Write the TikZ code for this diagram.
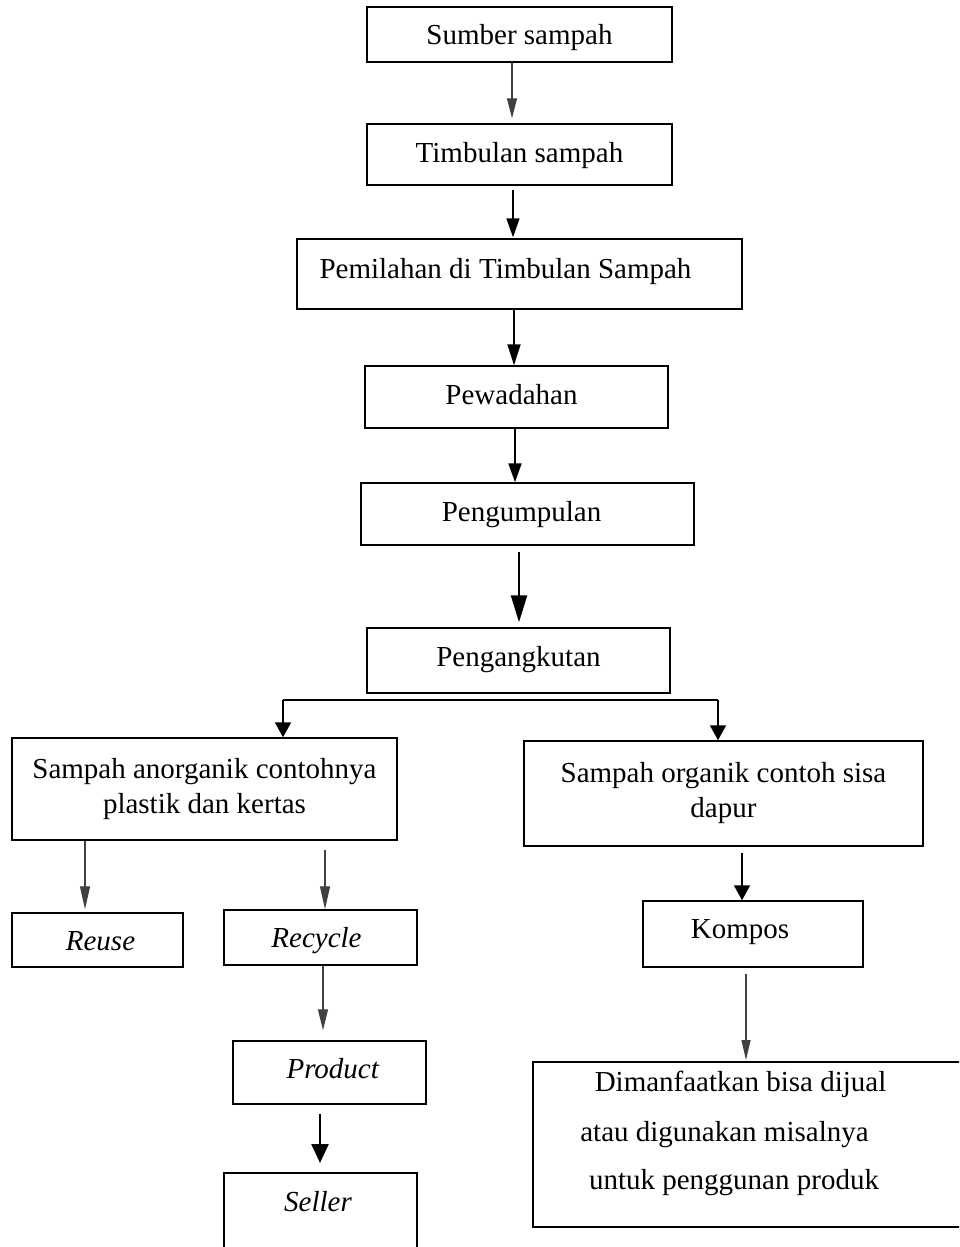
\documentclass[tikz,border=0pt]{standalone}
\usepackage{fontspec}
\setmainfont{Liberation Serif}
\usetikzlibrary{arrows.meta,calc}
\newcommand\lowr[2]{\raisebox{-#1pt}[0pt][0pt]{#2}}
\tikzset{
  box/.style={draw=black, line width=1.5pt, rectangle, inner sep=0pt, align=center,
              font=\fontsize{29}{35}\selectfont},
  txt/.style={inner sep=0pt, anchor=base, font=\fontsize{29}{35}\selectfont},
  thinarr/.style={draw=black!75, line width=1.2pt, -{Triangle[length=20pt,width=10pt]}},
  medarr/.style={draw=black, line width=1.7pt, -{Triangle[length=19pt,width=13pt]}},
  bigarr/.style={draw=black, line width=2.4pt, -{Triangle[length=27pt,width=16pt]}},
  brarr/.style={draw=black, line width=2pt, -{Triangle[length=15pt,width=16pt]}},
  fatarr/.style={draw=black, line width=2.4pt, -{Triangle[length=19pt,width=17pt]}},
}
\begin{document}
\begin{tikzpicture}[x=1pt,y=-1pt]
\useasboundingbox (0,0) rectangle (959,1247);
\clip (0,0) rectangle (959,1247);

% column coordinates for connectors
\coordinate (c1) at (512,0);
\coordinate (c2) at (513,0);
\coordinate (c3) at (514,0);
\coordinate (c4) at (515,0);
\coordinate (c5) at (519,0);
\coordinate (cL) at (283,0);
\coordinate (cR) at (718,0);
\coordinate (c8) at (85,0);
\coordinate (c9) at (325,0);
\coordinate (c10) at (323,0);
\coordinate (c11) at (320,0);
\coordinate (c12) at (742,0);
\coordinate (c13) at (746,0);
\coordinate (split) at (500,700);

% main chain
\node[box, minimum width=305pt, minimum height=55pt] (b1) at (519.5,34.5) {\lowr{10}{Sumber sampah}};
\node[box, minimum width=305pt, minimum height=61pt] (b2) at (519.5,154.5) {\lowr{7.5}{Timbulan sampah}};
\node[box, minimum width=445pt, minimum height=70pt] (b3) at (519.5,274) {\lowr{4}{Pemilahan di Timbulan Sampah\kern28pt}};
\node[box, minimum width=303pt, minimum height=62pt] (b4) at (516.5,397) {\lowr{7}{Pewadahan\kern10pt}};
\node[box, minimum width=333pt, minimum height=62pt] (b5) at (527.5,514) {\lowr{7.5}{Pengumpulan\kern12pt}};
\node[box, minimum width=303pt, minimum height=65pt] (b6) at (518.5,660.5) {\lowr{5.5}{Pengangkutan}};

% branches
\node[box, minimum width=385pt, minimum height=102pt] (b7) at (204.5,789)
  {Sampah anorganik contohnya\\plastik dan kertas};
\node[box, minimum width=399pt, minimum height=105pt] (b8) at (723.5,793.5)
  {Sampah organik contoh sisa\\dapur};

\node[box, minimum width=171pt, minimum height=54pt] (reuse) at (97.5,940) {\lowr{10.5}{\kern6pt\textit{Reuse}}};
\node[box, minimum width=193pt, minimum height=55pt] (recycle) at (320.5,937.5) {\lowr{10}{\textit{Recycle}\kern8pt}};
\node[box, minimum width=193pt, minimum height=63pt] (product) at (329.5,1072.5) {\lowr{6}{\kern7pt\textit{Product}}};
\node[box, minimum width=193pt, minimum height=110pt, anchor=north] (seller) at (320.5,1172) {};
\node[txt] (sellert) at (318,1211) {\textit{Seller}};

\node[box, minimum width=220pt, minimum height=66pt] (kompos) at (753,934) {\lowr{4.5}{Kompos\kern26pt}};
\node[box, minimum width=470pt, minimum height=165pt, anchor=north west] (dm) at (532,1061) {};
\node[txt] (dm1) at (740.5,1091) {Dimanfaatkan bisa dijual};
\node[txt] (dm2) at (724.5,1141) {atau digunakan misalnya};
\node[txt] (dm3) at (734,1189) {untuk penggunan produk};

% connectors
\draw[thinarr, shorten >=5pt] (b1.south -| c1) -- (b2.north -| c1);
\draw[medarr, shorten <=4pt, shorten >=1pt] (b2.south -| c2) -- (b3.north -| c2);
\draw[medarr, line width=2pt, -{Triangle[length=21pt,width=13pt]}] (b3.south -| c3) -- (b4.north -| c3);
\draw[medarr, line width=2pt] (b4.south -| c4) -- (b5.north -| c4);
\draw[bigarr, shorten <=6pt, shorten >=5pt] (b5.south -| c5) -- (b6.north -| c5);

\draw[line width=2pt] (split -| cL) -- (split -| cR);
\draw[brarr] (split -| cL) -- (b7.north -| cL);
\draw[brarr] (split -| cR) -- (b8.north -| cR);

\draw[thinarr, line width=1.3pt, -{Triangle[length=23pt,width=10pt]}, shorten >=3pt] (b7.south -| c8) -- (reuse.north -| c8);
\draw[thinarr, line width=1.3pt, -{Triangle[length=23pt,width=10pt]}, shorten <=9pt] (b7.south -| c9) -- (recycle.north -| c9);
\draw[thinarr, line width=1.3pt, -{Triangle[length=21pt,width=10pt]}, shorten >=10pt] (recycle.south -| c10) -- (product.north -| c10);
\draw[fatarr, shorten <=9pt, shorten >=9pt] (product.south -| c11) -- (seller.north -| c11);

\draw[brarr, shorten <=6pt] (b8.south -| c12) -- (kompos.north -| c12);
\draw[thinarr, -{Triangle[length=20pt,width=9pt]}, shorten <=6pt, shorten >=1pt] (kompos.south -| c13) -- (dm.north -| c13);
\end{tikzpicture}
\end{document}
